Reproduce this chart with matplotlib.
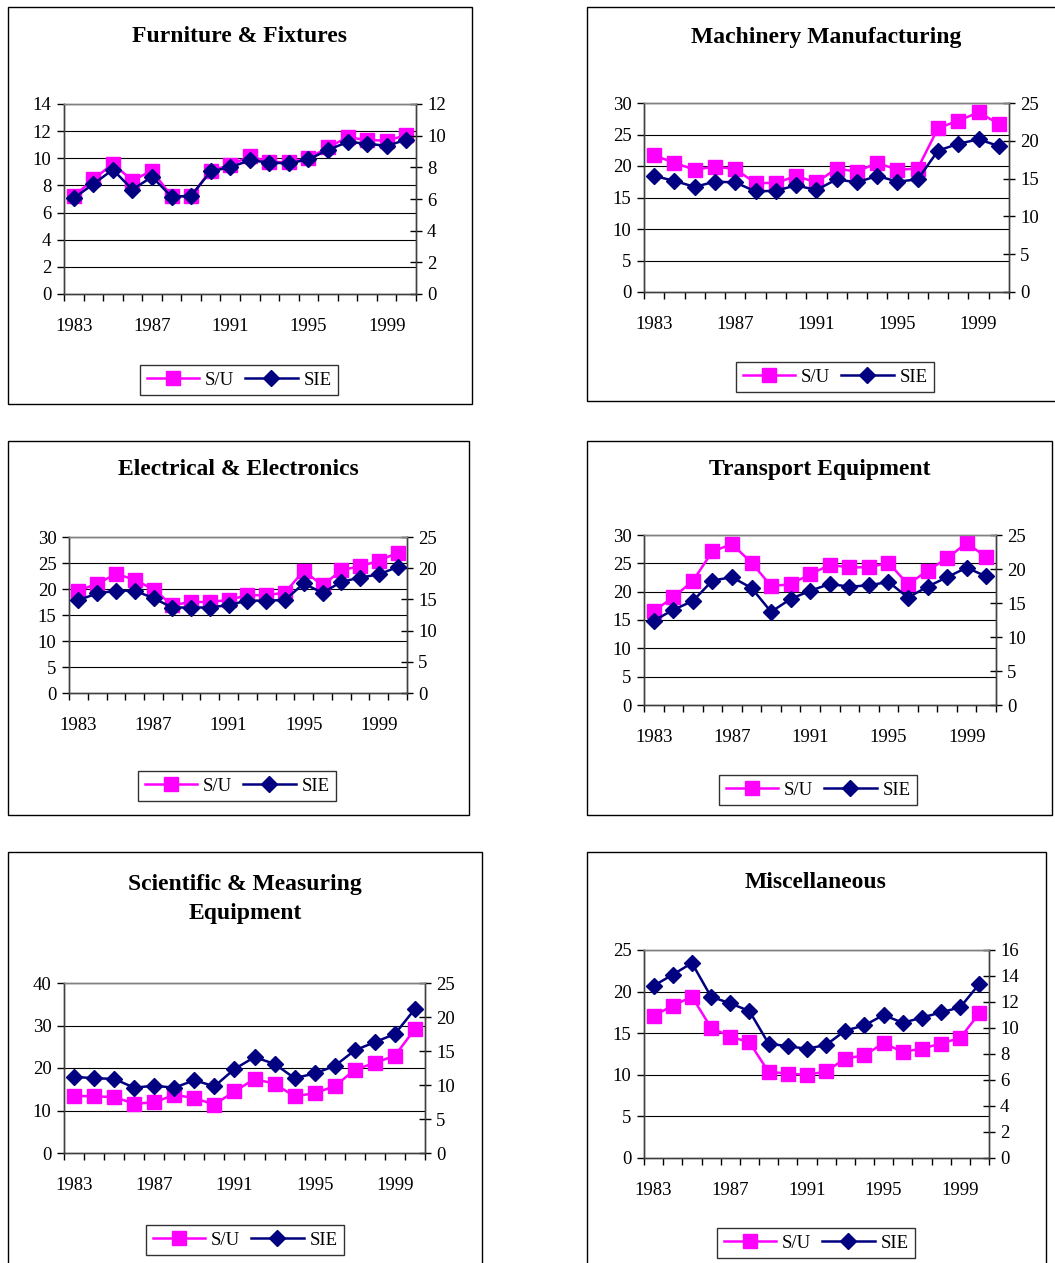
import matplotlib
matplotlib.use("Agg")
import matplotlib.pyplot as plt
from matplotlib.lines import Line2D
from matplotlib.patches import Rectangle
import numpy as np

plt.rcParams['font.family'] = ['Liberation Serif', 'DejaVu Serif']

years = list(range(1983, 2001))
year_labels = ['1983', '1987', '1991', '1995', '1999']

titles = [
    "Furniture & Fixtures",
    "Machinery Manufacturing",
    "Electrical & Electronics",
    "Transport Equipment",
    "Scientific & Measuring\nEquipment",
    "Miscellaneous",
]

furniture_su = [7.2, 8.45, 9.6, 8.35, 9.1, 7.2, 7.2, 9.1, 9.5, 10.15, 9.75, 9.7, 10.0, 10.8, 11.55, 11.35, 11.3, 11.7]
furniture_sie = [6.05, 6.95, 7.85, 6.6, 7.4, 6.15, 6.2, 7.75, 8.0, 8.45, 8.3, 8.25, 8.5, 9.1, 9.6, 9.5, 9.35, 9.75]

machinery_su = [21.7, 20.5, 19.4, 19.9, 19.5, 17.3, 17.3, 18.4, 17.4, 19.6, 19.1, 20.5, 19.4, 19.6, 26.0, 27.2, 28.5, 26.7]
machinery_sie = [15.35, 14.7, 13.9, 14.6, 14.5, 13.3, 13.4, 14.1, 13.5, 14.9, 14.5, 15.35, 14.6, 14.9, 18.7, 19.6, 20.2, 19.3]

electrical_su = [19.7, 21.0, 22.9, 21.8, 19.9, 16.9, 17.5, 17.5, 17.9, 18.8, 18.8, 19.3, 23.5, 20.7, 23.6, 24.4, 25.4, 27.0]
electrical_sie = [14.9, 15.95, 16.4, 16.4, 15.2, 13.7, 13.7, 13.7, 14.1, 14.8, 14.8, 14.9, 17.55, 16.05, 17.8, 18.5, 19.0, 20.2]

transport_su = [16.6, 19.0, 21.9, 27.1, 28.4, 25.1, 21.0, 21.3, 23.1, 24.7, 24.3, 24.3, 25.1, 21.3, 23.7, 25.9, 28.6, 26.1]
transport_sie = [12.4, 14.0, 15.3, 18.3, 18.8, 17.2, 13.7, 15.6, 16.8, 17.8, 17.4, 17.6, 18.1, 15.8, 17.4, 18.8, 20.2, 18.9]

scientific_su = [13.5, 13.3, 13.2, 11.6, 11.9, 13.7, 12.9, 11.4, 14.5, 17.4, 16.3, 13.3, 14.1, 15.7, 19.6, 21.2, 22.9, 29.2]
scientific_sie = [11.2, 11.0, 10.9, 9.6, 9.9, 9.6, 10.7, 9.8, 12.35, 14.1, 13.1, 11.0, 11.7, 12.8, 15.1, 16.3, 17.5, 21.2]

misc_su = [17.1, 18.3, 19.4, 15.65, 14.6, 13.9, 10.35, 10.15, 10.0, 10.4, 11.95, 12.35, 13.8, 12.75, 13.15, 13.75, 14.45, 17.4]
misc_sie = [13.25, 14.1, 15.0, 12.4, 11.9, 11.3, 8.8, 8.6, 8.4, 8.7, 9.8, 10.2, 11.0, 10.4, 10.8, 11.2, 11.6, 13.4]

su_series = [furniture_su, machinery_su, electrical_su, transport_su, scientific_su, misc_su]
sie_series = [furniture_sie, machinery_sie, electrical_sie, transport_sie, scientific_sie, misc_sie]

left_limits = [(14, 2), (30, 5), (30, 5), (30, 5), (40, 10), (25, 5)]
right_limits = [(12, 2), (25, 5), (25, 5), (25, 5), (25, 5), (16, 2)]

W, H = 1055, 1263
fig = plt.figure(figsize=(W / 100, H / 100), dpi=100)

# panel layout in pixels: outer frame, plot area, title centre, legend centre
frames = [(8, 7, 472, 404), (587, 7, 1080, 401), (8, 441, 469, 815),
          (587, 441, 1052, 815), (8, 852, 482, 1280), (587, 852, 1046, 1280)]
plots = [(64, 104, 416, 294), (644, 103, 1009, 292), (69, 537, 407, 693),
         (644, 535, 996, 705), (64, 983, 425, 1153), (644, 950, 989, 1158)]
title_pos = [(240, 37), (826, 38), (238, 469), (820, 470), (245, 899), (816, 883)]
legend_pos = [(239, 380), (835, 377), (237, 786), (818, 790), (245, 1240), (816, 1243)]

MAG = '#FF00FF'
NAVY = '#000080'


def fx(x):
    return x / W


def fy(y):
    return 1 - y / H


for i in range(6):
    x0, y0, x1, y1 = frames[i]
    fig.patches.append(Rectangle((fx(x0), fy(y1)), fx(x1 - x0), (y1 - y0) / H,
                                 transform=fig.transFigure, fill=False,
                                 edgecolor='black', linewidth=1.0, zorder=0))

    px0, py0, px1, py1 = plots[i]
    ax = fig.add_axes([fx(px0), fy(py1), fx(px1 - px0), (py1 - py0) / H])
    ax2 = ax.twinx()

    x = np.arange(len(years))
    ltop, lstep = left_limits[i]
    rtop, rstep = right_limits[i]

    ax.set_ylim(0, ltop)
    ax.set_yticks(np.arange(0, ltop + 0.01, lstep))
    ax2.set_ylim(0, rtop)
    ax2.set_yticks(np.arange(0, rtop + 0.01, rstep))
    ax.set_xlim(-0.5, len(years) - 0.5)

    for yv in np.arange(lstep, ltop + 0.01, lstep):
        ax.axhline(yv, color='black', linewidth=0.8, zorder=1)

    ax.plot(x, su_series[i], color=MAG, marker='s', markersize=10.5,
            linewidth=1.8, zorder=3)
    ax2.plot(x, sie_series[i], color=NAVY, marker='D', markersize=8.5,
             linewidth=1.8, zorder=3)

    # category axis: ticks between categories, labels every fourth year
    ax.set_xticks(np.arange(-0.5, len(years), 1.0), minor=True)
    ax.set_xticks(np.arange(0, len(years), 4))
    ax.set_xticklabels(year_labels)
    ax.tick_params(axis='x', which='minor', length=5, width=1, direction='out')
    ax.tick_params(axis='x', which='major', length=0, pad=17, labelsize=13.5)
    ax.tick_params(axis='y', length=5, width=1, direction='out', pad=4, labelsize=13.5)
    ax2.tick_params(axis='y', length=8, width=1, direction='inout', pad=4, labelsize=13.5)

    for a in (ax, ax2):
        a.spines['top'].set_color('#808080')
        a.spines['left'].set_color('#404040')
        a.spines['right'].set_color('#404040')
        a.spines['bottom'].set_color('#404040')
        for s in a.spines.values():
            s.set_linewidth(1.0)

    tx, ty = title_pos[i]
    fig.text(fx(tx), fy(ty), titles[i], ha='center', va='center',
             fontsize=17, fontweight='bold', linespacing=1.55)

    handles = [Line2D([], [], color=MAG, marker='s', markersize=10.5, linewidth=1.8),
               Line2D([], [], color=NAVY, marker='D', markersize=8.5, linewidth=1.8)]
    lx, ly = legend_pos[i]
    leg = fig.legend(handles, ['S/U', 'SIE'], loc='center',
                     bbox_to_anchor=(fx(lx), fy(ly)), ncol=2, fontsize=13.5,
                     frameon=True, fancybox=False, edgecolor='black',
                     handlelength=2.8, handletextpad=0.3, columnspacing=0.6,
                     borderpad=0.35, borderaxespad=0)
    leg.get_frame().set_linewidth(1.0)

fig.savefig('out.png', dpi=100)
